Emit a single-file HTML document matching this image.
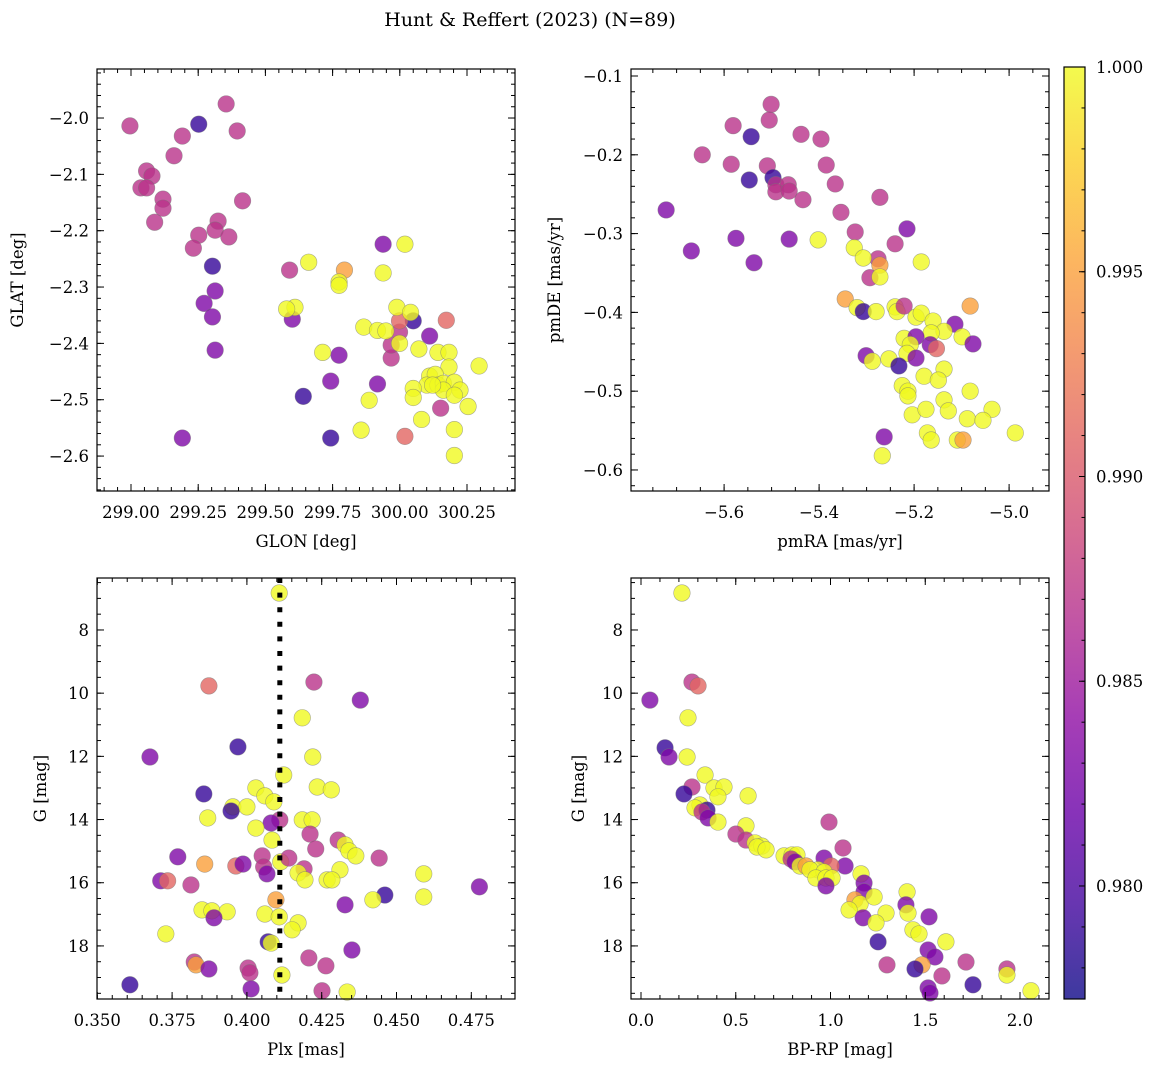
<!DOCTYPE html>
<html><head><meta charset="utf-8"><style>
body{margin:0;background:#fff;}
svg text{font-family:"DejaVu Serif","Liberation Serif",serif;fill:#000;}
</style></head><body>
<svg id="fig" width="1161" height="1067" xmlns="http://www.w3.org/2000/svg">
<rect width="1161" height="1067" fill="#fff"/>
<text x="530" y="26" font-size="19" text-anchor="middle">Hunt &amp; Reffert (2023) (N=89)</text>
</svg>
<script>
// ---- color codes: Y=1.000 O=0.995 S=0.991 P=0.987 U=0.983 B=0.979
const probCodes = {Y:1.0, O:0.995, S:0.991, P:0.987, U:0.983, B:0.979};
// Panel 1: GLON / GLAT
const p1Lon = [298.996,299.252,299.354,299.395,299.191,299.160,299.058,299.078,299.037,299.058,299.119,299.415,299.119,299.088,299.324,299.313,299.252,299.364,299.232,299.303,299.590,299.313,299.272,299.303,299.600,299.313,299.191,299.641,299.743,299.743,299.774,299.938,299.917,300.050,300.111,299.968,299.968,299.999,300.152,300.019,299.999,300.173,299.794,
299.661,300.019,299.938,299.774,299.774,299.610,299.579,299.989,300.040,299.713,299.866,299.917,299.948,299.999,300.071,300.142,300.183,300.295,300.183,300.111,300.132,300.101,300.050,300.142,300.162,300.203,300.162,300.224,300.203,300.050,300.254,299.886,300.081,299.856,300.203,300.203,300.122];
const p1Lat = [-2.014,-2.011,-1.975,-2.023,-2.032,-2.067,-2.094,-2.103,-2.124,-2.124,-2.144,-2.147,-2.160,-2.185,-2.183,-2.199,-2.208,-2.211,-2.231,-2.263,-2.270,-2.307,-2.329,-2.353,-2.357,-2.412,-2.568,-2.494,-2.568,-2.467,-2.421,-2.224,-2.472,-2.360,-2.387,-2.426,-2.403,-2.380,-2.515,-2.565,-2.360,-2.359,-2.270,
-2.256,-2.224,-2.275,-2.291,-2.297,-2.336,-2.339,-2.336,-2.345,-2.416,-2.371,-2.377,-2.378,-2.400,-2.410,-2.416,-2.416,-2.440,-2.442,-2.458,-2.455,-2.474,-2.480,-2.474,-2.471,-2.469,-2.483,-2.483,-2.492,-2.496,-2.512,-2.501,-2.535,-2.554,-2.553,-2.599,-2.474];
const p1Col = "PBPPPPPPPPPPPPPPPPPBPUUUUUUBBUUUUBUPPPPSSSOYYYYYYYYYYYYYYYYYYYYYYYYYYYYYYYYYYYY";
// Panel 2: pmRA / pmDE
const p2RA = [-5.501,-5.581,-5.505,-5.543,-5.438,-5.396,-5.646,-5.585,-5.509,-5.497,-5.547,-5.491,-5.465,-5.491,-5.463,-5.434,-5.385,-5.366,-5.272,-5.722,-5.354,-5.215,-5.324,-5.575,-5.463,-5.240,-5.669,-5.537,-5.276,-5.293,-5.272,-5.272,-5.326,-5.307,-5.402,-5.185,-5.345,-5.082,-5.320,-5.307,-5.280,-5.240,-5.236,-5.221,-5.196,-5.185,-5.160,-5.114,-5.137,-5.164,-5.221,-5.196,-5.099,-5.208,-5.166,-5.153,-5.076,-5.215,-5.196,-5.301,-5.288,-5.253,-5.232,-5.137,-5.179,-5.149,-5.225,-5.213,-5.213,-5.082,-5.137,-5.204,-5.175,-5.128,-5.036,-5.088,-5.055,-5.172,-4.987,-5.164,-5.109,-5.097,-5.263,-5.267];
const p2DE = [-0.136,-0.163,-0.156,-0.177,-0.174,-0.180,-0.200,-0.212,-0.214,-0.229,-0.232,-0.238,-0.238,-0.247,-0.246,-0.257,-0.213,-0.237,-0.254,-0.270,-0.273,-0.294,-0.298,-0.306,-0.307,-0.313,-0.322,-0.337,-0.332,-0.356,-0.340,-0.355,-0.318,-0.331,-0.308,-0.336,-0.383,-0.392,-0.394,-0.399,-0.399,-0.393,-0.399,-0.392,-0.406,-0.401,-0.411,-0.415,-0.424,-0.426,-0.433,-0.431,-0.431,-0.441,-0.441,-0.446,-0.440,-0.452,-0.458,-0.455,-0.462,-0.459,-0.468,-0.472,-0.481,-0.486,-0.493,-0.500,-0.506,-0.500,-0.511,-0.530,-0.523,-0.525,-0.523,-0.535,-0.537,-0.553,-0.553,-0.562,-0.562,-0.562,-0.558,-0.582];
const p2Col = "PPPBPPPPPBBPPPPPPPPUPUPUUPUUPPOYYYYYOOYBYYYPYYYUYYYUYYUSUYUUYYBYYYYYYYYYYYYYYYYYYOU";
// Panel 3: Plx / G
const p3Plx = [0.4108,0.3873,0.4224,0.4379,0.4185,0.3676,0.3970,0.4220,0.4123,0.4030,0.4235,0.4282,0.3856,0.4060,0.4090,0.3953,0.4000,0.3947,0.3869,0.4110,0.4081,0.4185,0.4218,0.4030,0.4211,0.4305,0.4084,0.4328,0.4341,0.4230,0.4364,0.4051,0.4113,0.4140,0.3769,0.4056,0.3963,0.3859,0.3987,0.4191,0.4067,0.4171,0.4311,0.4442,0.4591,0.4194,0.4268,0.4284,0.3712,0.3735,0.3813,0.4777,0.4461,0.4591,0.4097,0.4421,0.4328,0.3850,0.3883,0.3934,0.3890,0.4060,0.4108,0.4171,0.4151,0.3729,0.4071,0.4081,0.4351,0.3824,0.3830,0.4207,0.4264,0.3873,0.4004,0.4010,0.4117,0.3609,0.4014,0.4251,0.4335];
const p3G = [6.83,9.77,9.65,10.22,10.78,12.02,11.70,12.02,12.59,13.00,12.97,13.06,13.19,13.25,13.44,13.60,13.60,13.73,13.95,14.01,14.11,14.01,14.01,14.27,14.46,14.65,14.65,14.80,14.99,14.93,15.15,15.15,15.34,15.22,15.18,15.50,15.47,15.41,15.41,15.56,15.72,15.69,15.59,15.22,15.72,15.91,15.91,15.91,15.94,15.94,16.07,16.13,16.39,16.45,16.54,16.54,16.70,16.86,16.89,16.92,17.11,16.99,17.08,17.27,17.49,17.62,17.87,17.91,18.13,18.51,18.60,18.38,18.63,18.73,18.70,18.85,18.92,19.23,19.36,19.42,19.46];
const p3Col = "YSPUYUBYYYYYBYYYYBYPUYYYPPYYYPYPYPUPSOUPUYYPYYYYUSPUBYOYUYYYUYYYYYBYUPOPPUPPYBUPY";
const plxRef = [0.411];
// Panel 4: BP-RP / G
const p4BR = [0.216,0.047,0.269,0.301,0.248,0.127,0.148,0.243,0.338,0.269,0.385,0.438,0.227,0.565,0.406,0.311,0.285,0.348,0.322,0.354,0.406,0.992,0.554,0.501,0.554,0.602,0.638,0.612,0.660,1.066,0.755,0.797,0.823,0.792,0.813,0.966,0.839,0.871,1.077,1.003,0.934,0.892,0.966,0.923,0.976,1.008,1.161,1.177,0.976,1.177,1.129,1.156,1.098,1.230,1.404,1.398,1.293,1.409,1.172,1.520,1.240,1.435,1.467,1.609,1.251,1.515,1.551,1.715,1.298,1.483,1.446,1.931,1.931,1.588,1.515,1.752,2.058,1.525];
const p4G = [6.83,10.22,9.65,9.77,10.78,11.73,12.02,12.02,12.59,12.97,13.00,12.97,13.19,13.25,13.28,13.54,13.63,13.70,13.76,13.95,14.08,14.08,14.20,14.46,14.65,14.74,14.84,14.87,14.96,14.90,15.15,15.12,15.12,15.25,15.34,15.22,15.47,15.47,15.47,15.47,15.59,15.59,15.66,15.85,15.85,15.85,15.72,16.01,16.10,16.29,16.54,16.67,16.86,16.45,16.29,16.70,16.96,16.96,17.11,17.08,17.27,17.49,17.62,17.87,17.87,18.13,18.35,18.51,18.60,18.60,18.73,18.73,18.92,18.95,19.33,19.23,19.42,19.49];
const p4Col = "YUPSYBUYYPYYBYYYYBPUYPYPPYYYYPYYYPUUYOUSYYYYYYYUUUOYYYYUYYUUYYYYBUUPPOBPYPUBYU";
// tick labels
const p1XTicks = ["299.00","299.25","299.50","299.75","300.00","300.25"];
const p1YTicks = [-2.0,-2.1,-2.2,-2.3,-2.4,-2.5,-2.6];
const p2XTicks = [-5.6,-5.4,-5.2,-5.0];
const p2YTicks = [-0.1,-0.2,-0.3,-0.4,-0.5,-0.6];
const p3XTicks = [0.350,0.375,0.400,0.425,0.450,0.475];
const gTicks = [8,10,12,14,16,18];
const p4XTicks = [0.0,0.5,1.0,1.5,2.0];
const cbTicks = [0.980,0.985,0.990,0.995,1.000];

const NS="http://www.w3.org/2000/svg";
const svg=document.getElementById('fig');
function mk(tag,attrs,parent){const e=document.createElementNS(NS,tag);for(const k in attrs)e.setAttribute(k,attrs[k]);(parent||svg).appendChild(e);return e;}
const stops=["#0d0887","#41049d","#6a00a8","#8f0da4","#b12a90","#cc4778","#e16462","#f2844b","#fca636","#fcce25","#f0f921"];
function hex(h){return [1,3,5].map(i=>parseInt(h.substr(i,2),16));}
const cmin=0.97724,cmax=1.0;
function plasma(v){let t=(v-cmin)/(cmax-cmin);t=Math.max(0,Math.min(1,t));const f=t*10,i=Math.min(9,Math.floor(f)),r=f-i;const a=hex(stops[i]),b=hex(stops[i+1]);return 'rgb('+a.map((x,j)=>Math.round(x+(b[j]-x)*r)).join(',')+')';}
function fmt(v,d){return (v<0?'\u2212':'')+Math.abs(v).toFixed(d);}

function panel(o){
  const g=mk('g',{});
  
  
  const sx=v=>o.x0+(v-o.xd[0])/(o.xd[1]-o.xd[0])*(o.x1-o.x0);
  const sy=v=>o.y0+(v-o.yd[0])/(o.yd[1]-o.yd[0])*(o.y1-o.y0);
  const pts=mk('g',{},g);
  
  
  const n=Math.min(o.xs.length,o.ys.length);
  for(let i=0;i<n;i++){
    const c=probCodes[o.cols[i]]||1.0;
    const p=mk('circle',{cx:sx(o.xs[i]),cy:sy(o.ys[i]),r:8.3,fill:plasma(c),'fill-opacity':0.8,stroke:'#777','stroke-opacity':0.6,'stroke-width':0.6},pts);
    
    
  }
  if(o.vline){o.vline.forEach(v=>{const l=mk('line',{x1:sx(v),x2:sx(v),y1:o.y0,y2:o.y1,stroke:'#000','stroke-width':5,'stroke-dasharray':'5 9.6'},g);
    
    });}
  const fr=mk('rect',{x:o.x0,y:o.y0,width:o.x1-o.x0,height:o.y1-o.y0,fill:'none',stroke:'#000','stroke-width':1.2},g);
  
  
  const tk=mk('g',{stroke:'#000','stroke-width':1},g);
  o.xt.forEach(t=>{const v=parseFloat(t);const x=sx(v);
    mk('line',{x1:x,x2:x,y1:o.y1,y2:o.y1-7},tk);mk('line',{x1:x,x2:x,y1:o.y0,y2:o.y0+7},tk);
    const tx=mk('text',{x:x,y:o.y1+27,'font-size':16.5,'text-anchor':'middle'},g);tx.textContent=typeof t==='string'?t:fmt(v,o.xdec);
    
    });
  for(let v=Math.ceil(o.xd[0]/o.xm)*o.xm;v<=o.xd[1];v+=o.xm){const x=sx(v);if(x<o.x0||x>o.x1)continue;
    mk('line',{x1:x,x2:x,y1:o.y1,y2:o.y1-4},tk);mk('line',{x1:x,x2:x,y1:o.y0,y2:o.y0+4},tk);}
  o.yt.forEach(v=>{const y=sy(v);
    mk('line',{x1:o.x0,x2:o.x0+7,y1:y,y2:y},tk);mk('line',{x1:o.x1,x2:o.x1-7,y1:y,y2:y},tk);
    const tx=mk('text',{x:o.x0-8,y:y+6,'font-size':16.5,'text-anchor':'end'},g);tx.textContent=fmt(v,o.ydec);
    
    });
  const ylo=Math.min(o.yd[0],o.yd[1]),yhi=Math.max(o.yd[0],o.yd[1]);
  for(let v=Math.ceil(ylo/o.ym)*o.ym;v<=yhi;v+=o.ym){const y=sy(v);
    mk('line',{x1:o.x0,x2:o.x0+4,y1:y,y2:y},tk);mk('line',{x1:o.x1,x2:o.x1-4,y1:y,y2:y},tk);}
  const xl=mk('text',{x:(o.x0+o.x1)/2,y:o.y1+56,'font-size':16.5,'text-anchor':'middle'},g);xl.textContent=o.xlab;
  
  
  const yx=o.ylx,yy=(o.y0+o.y1)/2;
  const yl=mk('text',{x:yx,y:yy,'font-size':16.5,'text-anchor':'middle',transform:'rotate(-90 '+yx+' '+yy+')'},g);yl.textContent=o.ylab;
  
  
}
panel({name:'glon-glat-panel',x0:97,x1:515,y0:69,y1:491,xd:[298.8735,300.4286],yd:[-1.913,-2.662],xs:p1Lon,ys:p1Lat,cols:p1Col,xt:p1XTicks,yt:p1YTicks,xm:0.05,ym:0.02,xdec:2,ydec:1,xlab:'GLON [deg]',ylab:'GLAT [deg]',ylx:23});
panel({name:'proper-motion-panel',x0:631,x1:1049,y0:69,y1:491,xd:[-5.796,-4.916],yd:[-0.0911,-0.6267],xs:p2RA,ys:p2DE,cols:p2Col,xt:p2XTicks,yt:p2YTicks,xm:0.05,ym:0.02,xdec:1,ydec:1,xlab:'pmRA [mas/yr]',ylab:'pmDE [mas/yr]',ylx:560});
panel({name:'parallax-magnitude-panel',x0:97,x1:515,y0:578,y1:999,xd:[0.3499,0.4896],yd:[6.355,19.68],xs:p3Plx,ys:p3G,cols:p3Col,xt:p3XTicks,yt:gTicks,xm:0.005,ym:0.5,xdec:3,ydec:0,xlab:'Plx [mas]',ylab:'G [mag]',ylx:46,vline:plxRef});
panel({name:'color-magnitude-panel',x0:631,x1:1049,y0:578,y1:999,xd:[-0.0528,2.153],yd:[6.355,19.68],xs:p4BR,ys:p4G,cols:p4Col,xt:p4XTicks,yt:gTicks,xm:0.1,ym:0.5,xdec:1,ydec:0,xlab:'BP-RP [mag]',ylab:'G [mag]',ylx:584});

(function(){
  const x0=1064,x1=1085,y0=67,y1=999;
  const g=mk('g',{});
  
  
  const defs=mk('defs',{},g);
  const lg=mk('linearGradient',{id:'pl',x1:0,y1:1,x2:0,y2:0},defs);
  stops.forEach((s,i)=>mk('stop',{offset:(i/10),'stop-color':s,'stop-opacity':0.8},lg));
  mk('rect',{x:x0,y:y0,width:x1-x0,height:y1-y0,fill:'url(#pl)'},g);
  mk('rect',{x:x0,y:y0,width:x1-x0,height:y1-y0,fill:'none',stroke:'#000','stroke-width':1.2},g);
  const sy=v=>y1-(v-cmin)/(cmax-cmin)*(y1-y0);
  cbTicks.forEach(v=>{const y=sy(v);mk('line',{x1:x1,x2:x1-6,y1:y,y2:y,stroke:'#000'},g);
    const t=mk('text',{x:1096,y:y+6,'font-size':16.5},g);t.textContent=v.toFixed(3);
    
    });
  for(let v=0.978;v<=1.0001;v+=0.001){const y=sy(v);mk('line',{x1:x1,x2:x1-3.5,y1:y,y2:y,stroke:'#000'},g);}
})();
</script>
</body></html>
